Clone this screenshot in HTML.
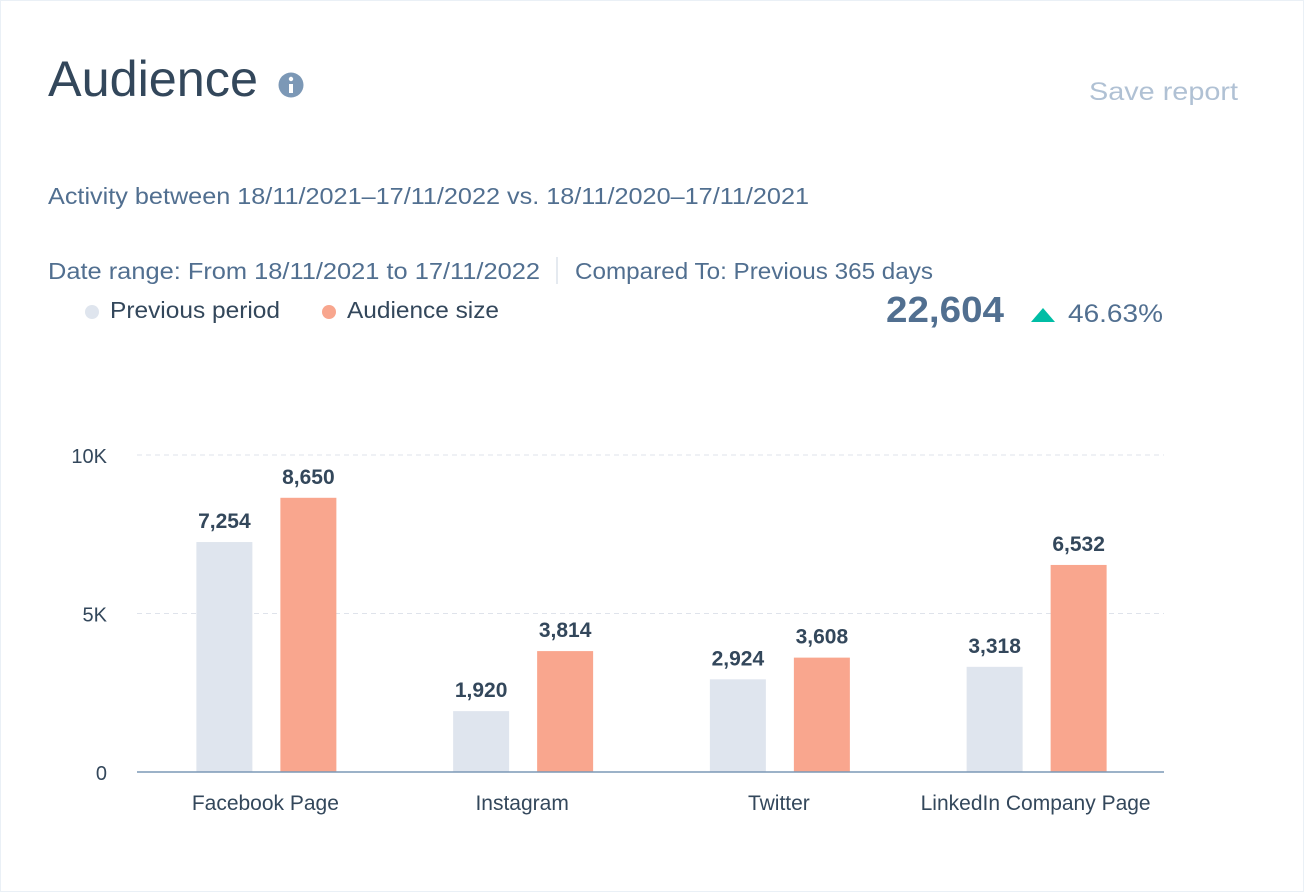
<!DOCTYPE html>
<html><head><meta charset="utf-8"><style>
body{margin:0;background:#fff;width:1304px;height:892px;overflow:hidden;font-family:"Liberation Sans",sans-serif}
svg{display:block}
</style></head><body>
<svg width="1304" height="892">
<rect x="0.5" y="0.5" width="1303" height="891" fill="#fff" stroke="#eaf0f6"/>
<text x="48" y="96" font-size="50" fill="#33475b" textLength="210" lengthAdjust="spacingAndGlyphs">Audience</text>
<g><circle cx="291" cy="85" r="12.5" fill="#7c98b6"/><rect x="289" y="84" width="4" height="9" fill="#fff"/><circle cx="291" cy="79" r="2.2" fill="#fff"/></g>
<text x="1089" y="100" font-size="25" fill="#b0c1d4" textLength="149" lengthAdjust="spacingAndGlyphs">Save report</text>
<text x="48" y="204" font-size="23" fill="#516f90" textLength="761" lengthAdjust="spacingAndGlyphs">Activity between 18/11/2021–17/11/2022 vs. 18/11/2020–17/11/2021</text>
<text x="48" y="279" font-size="23" fill="#516f90" textLength="492" lengthAdjust="spacingAndGlyphs">Date range: From 18/11/2021 to 17/11/2022</text>
<line x1="557" y1="257" x2="557" y2="284" stroke="#cbd6e2"/>
<text x="575" y="279" font-size="23" fill="#516f90" textLength="358" lengthAdjust="spacingAndGlyphs">Compared To: Previous 365 days</text>
<g><circle cx="92" cy="312" r="7" fill="#dfe5ee"/><text x="110" y="318" font-size="23" fill="#33475b" textLength="170" lengthAdjust="spacingAndGlyphs">Previous period</text></g>
<g><circle cx="329" cy="312" r="7" fill="#f8a68e"/><text x="347" y="318" font-size="23" fill="#33475b" textLength="152" lengthAdjust="spacingAndGlyphs">Audience size</text></g>
<text x="886" y="322" font-size="36" font-weight="bold" fill="#516f90" textLength="118" lengthAdjust="spacingAndGlyphs">22,604</text>
<polygon points="1031,322 1043,308 1055,322" fill="#00bda5"/>
<text x="1068" y="322" font-size="25" fill="#516f90" textLength="95" lengthAdjust="spacingAndGlyphs">46.63%</text>
<g id="chart"></g>
</svg>
<script>
const categories=["Facebook Page","Instagram","Twitter","LinkedIn Company Page"];
const previousValues=[7254,1920,2924,3318];
const audienceValues=[8650,3814,3608,6532];
const tickValues=[0,5000,10000];
const tickLabels=["0","5K","10K"];
const NS="http://www.w3.org/2000/svg";
const g=document.getElementById("chart");
const x0=137,x1=1164,yBase=772,yTop=455,maxV=10000;
const y=v=>yBase-(yBase-yTop)*v/maxV;
const band=(x1-x0)/categories.length;
const cx=i=>x0+band*(i+0.5);
function el(t,a,txt){const e=document.createElementNS(NS,t);for(const k in a)e.setAttribute(k,a[k]);if(txt!=null)e.textContent=txt;g.appendChild(e);return e;}
tickValues.forEach((v,i)=>{
 if(v>0){const l=el("line",{x1:x0,x2:x1,y1:y(v),y2:y(v),stroke:"#dfe3eb","stroke-dasharray":"5,4"});
 
 }
 const t=el("text",{x:107,y:y(v)+8,"font-size":20,fill:"#33475b","text-anchor":"end"},tickLabels[i]);
 
 
});
const bw=56;
categories.forEach((c,i)=>{
 [[previousValues[i],"#dfe5ee",-42],[audienceValues[i],"#f9a68e",42]].forEach(([v,col,off],k)=>{
  const bx=cx(i)+off-bw/2+1;
  const r=el("rect",{x:bx,y:y(v),width:bw,height:yBase-y(v),fill:col});
  
  
  const t=el("text",{x:bx+bw/2,y:y(v)-14,"font-size":21,"font-weight":"bold",fill:"#33475b","text-anchor":"middle"},v.toLocaleString("en-US"));
  
  
 });
 const t=el("text",{x:cx(i),y:810,"font-size":21,fill:"#33475b","text-anchor":"middle"},c);
 
 
});
const ax=el("line",{x1:x0,x2:x1,y1:yBase,y2:yBase,stroke:"#7c98b6","stroke-width":1.5});


</script>
</body></html>
